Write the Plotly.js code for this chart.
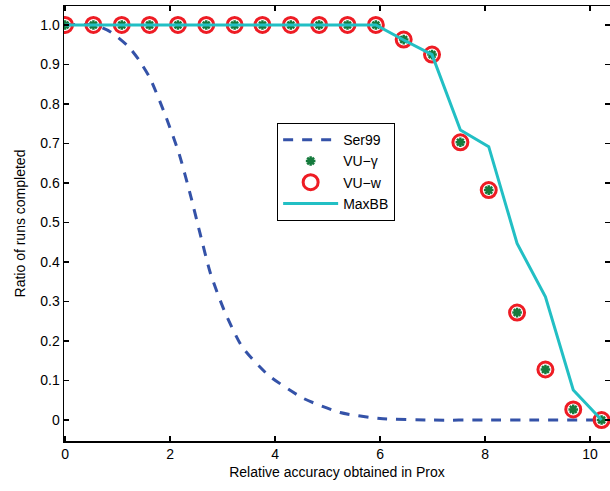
<!DOCTYPE html>
<html>
<head>
<meta charset="utf-8">
<script src="https://cdn.plot.ly/plotly-3.0.1.min.js"></script>
<style>html,body{margin:0;padding:0;background:#fff;}#chart{width:610px;height:491px;}</style>
</head>
<body>
<div id="chart"></div>
<script>
// Shared x positions of the VU / MaxBB samples
const xGrid = [0, 0.54, 1.08, 1.61, 2.15, 2.69, 3.23, 3.76, 4.30, 4.84, 5.38, 5.92, 6.45, 6.99, 7.53, 8.07, 8.61, 9.15, 9.68, 10.22];
const vuGamma = [1, 1, 1, 1, 1, 1, 1, 1, 1, 1, 1, 1, 0.963, 0.925, 0.703, 0.582, 0.272, 0.128, 0.027, 0];
const vuW     = [1, 1, 1, 1, 1, 1, 1, 1, 1, 1, 1, 1, 0.963, 0.925, 0.703, 0.582, 0.272, 0.128, 0.027, 0];
const maxBB   = [1, 1, 1, 1, 1, 1, 1, 1, 1, 1, 1, 1, 0.962, 0.925, 0.734, 0.692, 0.447, 0.312, 0.076, 0];

const serX = [0, 0.55, 0.86, 1.21, 1.41, 1.62, 1.92, 2.17, 2.38, 2.57, 2.77, 3.03, 3.37, 3.87, 4.54, 5.24, 6.0, 7.0, 8.0, 9.0, 10.22];
const serY = [1.0, 1.0, 0.983, 0.945, 0.911, 0.865, 0.768, 0.675, 0.574, 0.473, 0.371, 0.278, 0.186, 0.114, 0.055, 0.019, 0.004, 0, 0, 0, 0];

const xTicks = [0, 2, 4, 6, 8, 10];
const yTicks = [0, 0.1, 0.2, 0.3, 0.4, 0.5, 0.6, 0.7, 0.8, 0.9, 1.0];
const yTickText = ["0", "0.1", "0.2", "0.3", "0.4", "0.5", "0.6", "0.7", "0.8", "0.9", "1.0"];

const seriesNames = ["Ser99", "VU−γ", "VU−w", "MaxBB"];

const font = "Liberation Sans, Arial, Helvetica, sans-serif";

const traces = [
  {x: serX, y: serY, name: seriesNames[0], mode: "lines", type: "scatter",
   line: {color: "#3452a8", width: 3, dash: "10px,9px", shape: "spline", smoothing: 0.6}},
  {x: xGrid, y: vuGamma, name: seriesNames[1], mode: "markers", type: "scatter",
   marker: {symbol: "asterisk-open", size: 8, color: "#157a3c", line: {color: "#157a3c", width: 2.5}}},
  {x: xGrid, y: vuW, name: seriesNames[2], mode: "markers", type: "scatter",
   marker: {symbol: "circle-open", size: 15, color: "#ee1c24", line: {color: "#ee1c24", width: 3}}},
  {x: xGrid, y: maxBB, name: seriesNames[3], mode: "lines", type: "scatter",
   line: {color: "#22bfc4", width: 3}}
];

const axisCommon = {
  showline: true, linecolor: "#000", linewidth: 1.5, mirror: "ticks",
  ticks: "inside", ticklen: 5, tickwidth: 1.5, tickcolor: "#000",
  showgrid: false, zeroline: false,
  tickfont: {family: font, size: 14, color: "#000"}
};

const layout = {
  width: 610, height: 491,
  margin: {l: 64, r: 0, t: 6, b: 50},
  paper_bgcolor: "#fff", plot_bgcolor: "#fff",
  font: {family: font, color: "#000"},
  showlegend: true,
  legend: {
    x: 0.39, y: 0.731, xanchor: "left", yanchor: "top",
    bgcolor: "#fff", bordercolor: "#000", borderwidth: 1.2,
    font: {family: font, size: 14, color: "#000"},
    tracegroupgap: 0, itemwidth: 55
  },
  xaxis: Object.assign({}, axisCommon, {
    range: [-0.02, 10.38], tickvals: xTicks, ticktext: xTicks.map(String),
    title: {text: "Relative accuracy obtained in Prox", font: {family: font, size: 14, color: "#000"}, standoff: 6}
  }),
  yaxis: Object.assign({}, axisCommon, {
    range: [-0.053, 1.048], tickvals: yTicks, ticktext: yTickText,
    title: {text: "Ratio of runs completed", font: {family: font, size: 14, color: "#000"}, standoff: 11}
  })
};

Plotly.newPlot("chart", traces, layout, {displayModeBar: false, staticPlot: true});
</script>
</body>
</html>
